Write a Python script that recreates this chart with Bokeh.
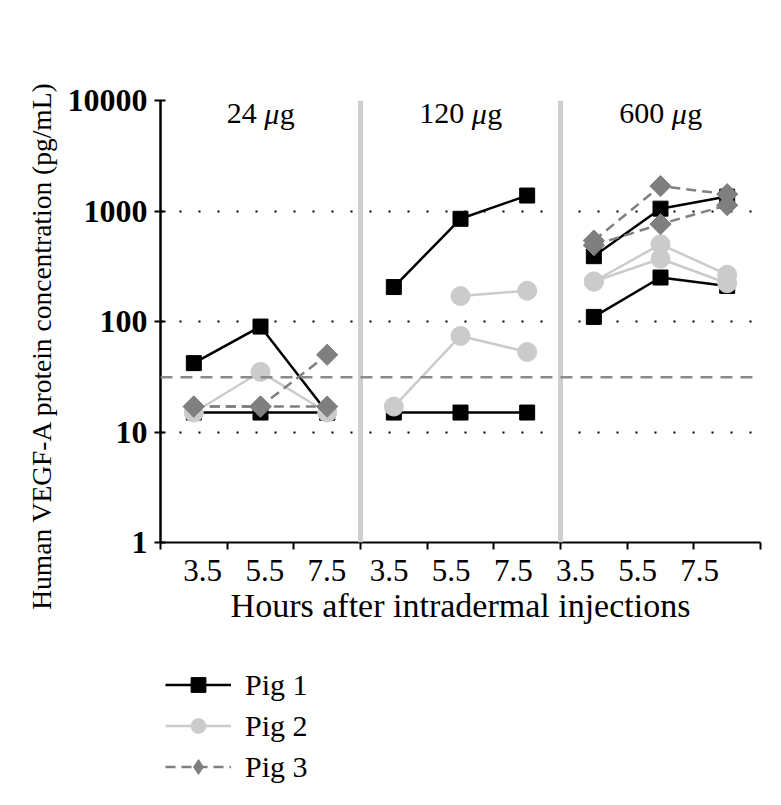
import math
from bokeh.plotting import figure
from bokeh.layouts import column
from bokeh.models import (FixedTicker, PrintfTickFormatter, Span, Label,
                          Legend, LegendItem)
from bokeh.embed import file_html
from bokeh.resources import INLINE

nan = float("nan")

# ---- data -------------------------------------------------------------
doses = ["24", "120", "600"]          # dose groups (μg)
hours = ["3.5", "5.5", "7.5"]         # hours after injection (per group)
y_ticks = [1, 10, 100, 1000, 10000]
lloq = 31.25                           # dashed detection limit (pg/mL)

# 9 values each: 24 μg (3.5, 5.5, 7.5), 120 μg (...), 600 μg (...)
pig1_a = [42, 90, 15, 205, 850, 1380, 390, 1050, 1350]
pig1_b = [15, 15, 15, 15, 15, 15, 110, 250, 210]
pig2_a = [15, 35, 15, 17, 74, 53, 230, 500, 265]
pig2_b = [nan, nan, nan, nan, 170, 190, 230, 370, 222]
pig3_a = [17, 17, 50, nan, nan, nan, 540, 1680, 1420]
pig3_b = [17, 17, 17, nan, nan, nan, 490, 760, 1130]

FONT = "Liberation Serif"

series = [
    ("Pig 1", [pig1_a, pig1_b],
     dict(color="#000000", dash="solid", marker="square", size=15, angle=0.0,
          leg_marker="square")),
    ("Pig 2", [pig2_a, pig2_b],
     dict(color="#cbcbcb", dash="solid", marker="circle", size=19, angle=0.0,
          leg_marker="circle")),
    ("Pig 3", [pig3_a, pig3_b],
     dict(color="#7f7f7f", dash="10 6", marker="square", size=15,
          angle=math.pi / 4, leg_marker="diamond")),
]

n_cat = len(doses) * len(hours)

p = figure(frame_width=600, frame_height=442,
           x_range=(0, n_cat), y_range=(y_ticks[0], y_ticks[-1]),
           y_axis_type="log", output_backend="svg", toolbar_location=None,
           min_border_left=160, min_border_top=100, min_border_right=15,
           min_border_bottom=108)
p.outline_line_color = None
p.background_fill_color = "white"
p.border_fill_color = "white"

# ---- axes ---------------------------------------------------------------
centers = [i + 0.5 for i in range(n_cat)]
bounds = [float(i) for i in range(n_cat + 1)]
# the hour labels sit slightly compressed toward the middle in the original
label_pos = [n_cat / 2 - 0.14 + (c - n_cat / 2) * 0.932 for c in centers]
xa = p.xaxis[0]
xa.ticker = FixedTicker(ticks=label_pos, minor_ticks=bounds)
xa.major_label_overrides = {c: hours[i % len(hours)] for i, c in enumerate(label_pos)}
xa.major_tick_line_color = None
xa.minor_tick_line_color = "black"
xa.minor_tick_line_width = 2
xa.minor_tick_in = 0
xa.minor_tick_out = 7
xa.axis_line_width = 2
xa.axis_line_color = "black"
xa.major_label_text_font = FONT
xa.major_label_text_font_size = "31px"
xa.major_label_text_color = "black"
xa.major_label_standoff = 10
xa.axis_label = "Hours after intradermal injections"
xa.axis_label_text_font = FONT
xa.axis_label_text_font_size = "34px"
xa.axis_label_text_font_style = "normal"
xa.axis_label_text_color = "black"
xa.axis_label_standoff = 3

ya = p.yaxis[0]
ya.ticker = FixedTicker(ticks=y_ticks, minor_ticks=[])
ya.formatter = PrintfTickFormatter(format="%d")
ya.axis_line_width = 2.5
ya.axis_line_color = "black"
ya.major_tick_line_width = 2
ya.major_tick_in = 5
ya.major_tick_out = 6
ya.minor_tick_line_color = None
ya.major_label_text_font = FONT
ya.major_label_text_font_style = "bold"
ya.major_label_text_font_size = "32px"
ya.major_label_text_color = "black"
ya.major_label_standoff = 7
# trailing non-breaking spaces push the centred title a little downwards
ya.axis_label = "Human VEGF-A protein concentration (pg/mL)" + "\u00a0" * 7
ya.axis_label_text_font = FONT
ya.axis_label_text_font_size = "27.5px"
ya.axis_label_text_font_style = "normal"
ya.axis_label_text_color = "black"
ya.axis_label_standoff = 8

p.xgrid.grid_line_color = None
p.ygrid.grid_line_color = "black"
p.ygrid.grid_line_width = 2
p.ygrid.grid_line_dash = "2 17"

# ---- reference lines ----------------------------------------------------
for g in range(1, len(doses)):
    p.add_layout(Span(location=g * len(hours), dimension="height",
                      line_color="#cfcfcf", line_width=5))
p.add_layout(Span(location=lloq, dimension="width", line_color="#8a8a8a",
                  line_width=2.5, line_dash="12 8"))

# ---- data series --------------------------------------------------------
for name, arrays, st in series:
    for vals in arrays:
        for g in range(len(doses)):
            idx = [g * len(hours) + k for k in range(len(hours))
                   if not math.isnan(vals[g * len(hours) + k])]
            if not idx:
                continue
            xs = [centers[i] for i in idx]
            ys = [vals[i] for i in idx]
            p.line(xs, ys, line_color=st["color"], line_width=2.5,
                   line_dash=st["dash"])
            p.scatter(xs, ys, marker=st["marker"], size=st["size"],
                      angle=st["angle"], fill_color=st["color"],
                      line_color=st["color"], line_width=1)

# ---- dose labels --------------------------------------------------------
fs = 30
for g, dose in enumerate(doses):
    cx = g * len(hours) + len(hours) / 2
    wn = 0.5 * fs * len(dose)
    total = wn + 0.25 * fs + fs
    left = -total / 2
    common = dict(x=cx, y=7600, text_font=FONT, text_font_size=f"{fs}px",
                  text_color="black", text_baseline="alphabetic",
                  text_align="left")
    p.add_layout(Label(text=dose, x_offset=left, **common))
    p.add_layout(Label(text="μ", x_offset=left + wn + 0.25 * fs,
                       text_font_style="italic", **common))
    p.add_layout(Label(text="g", x_offset=left + wn + 0.25 * fs + 0.52 * fs,
                       **common))

# ---- legend (separate strip under the chart) ------------------------------
pl = figure(width=775, height=150, x_range=(0, 1), y_range=(0, 1),
            output_backend="svg", toolbar_location=None, min_border=0)
pl.axis.visible = False
pl.grid.visible = False
pl.outline_line_color = None
pl.border_fill_color = "white"
items = []
hidden_x, hidden_y = [-10, -9], [-10, -9]   # proxy glyphs kept off-canvas
for name, arrays, st in series:
    rl = pl.line(hidden_x, hidden_y, line_color=st["color"], line_width=2.5,
                 line_dash=st["dash"])
    rs = pl.scatter(hidden_x, hidden_y, marker=st["leg_marker"],
                    fill_color=st["color"], line_color=st["color"])
    items.append(LegendItem(label=name, renderers=[rl, rs]))
legend = Legend(items=items, location=(5, 15), orientation="vertical",
                label_text_font=FONT, label_text_font_size="30px",
                label_text_color="black", glyph_width=66, glyph_height=37,
                label_height=37, label_standoff=14, spacing=4, padding=0,
                margin=0, border_line_color=None, background_fill_alpha=0)
pl.add_layout(legend, "center")

layout = column(p, pl, spacing=0)
open("out.html", "w").write(file_html(layout, INLINE))
